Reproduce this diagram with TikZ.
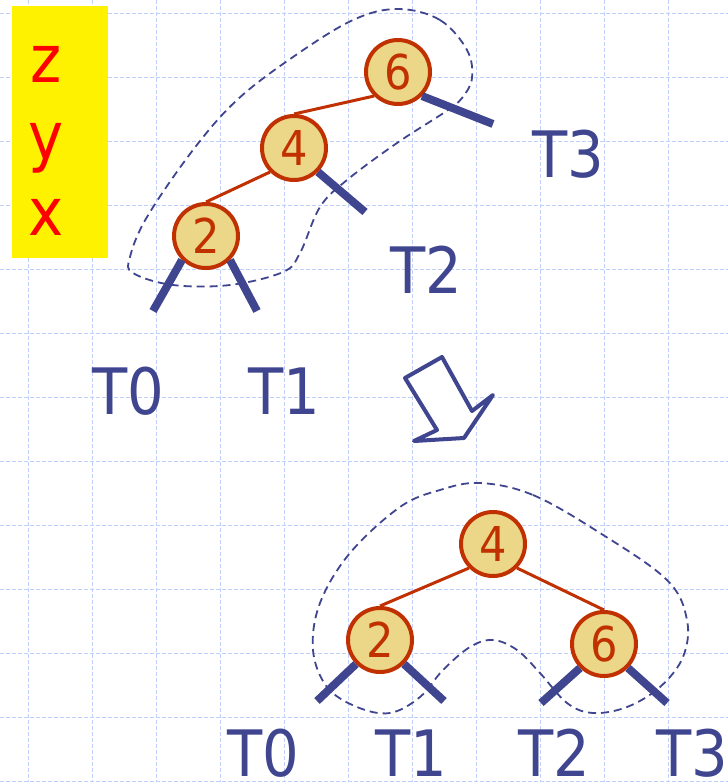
\documentclass[tikz,border=0pt]{standalone}
\usepackage{fontspec}
\setmainfont[FakeStretch=0.9]{DejaVu Sans}
\definecolor{treeblue}{RGB}{63,69,142}
\definecolor{nodered}{RGB}{192,48,0}
\definecolor{nodefill}{RGB}{235,215,135}
\definecolor{gridblue}{RGB}{192,208,250}

\begin{document}
\begin{tikzpicture}[x=1pt, y=-1pt,
  key/.style={circle, draw=nodered, fill=nodefill, line width=4pt, minimum size=64pt,
    inner sep=0pt, text=nodered, font=\fontsize{48}{50}\selectfont},
  link/.style={nodered, line width=3pt},
  stub/.style={treeblue, line width=8pt},
  lbl/.style={text=treeblue, anchor=base, inner sep=0pt, font=\fontsize{64}{70}\selectfont},
  letter/.style={text=red, anchor=base, inner sep=0pt, font=\fontsize{66}{70}\selectfont},
  blob/.style={treeblue, line width=1.8pt, dash pattern=on 8pt off 5pt}]

  \useasboundingbox (0,0) rectangle (728,782);
  \fill[white] (0,0) rectangle (728,782);

  % --- Grid ---
  \foreach \x in {28,92,...,668} \draw[gridblue, line width=1pt, dash pattern=on 4pt off 2pt] (\x,0) -- (\x,782);
  \foreach \y in {13,77,...,781} \draw[gridblue, line width=1pt, dash pattern=on 4pt off 2pt] (0,\y) -- (728,\y);

  % --- Rotation names ---
  \fill[yellow] (12,6) rectangle (108,258);
  \node[letter] (z) at (46,82) {z};
  \node[letter] (y) at (46,159) {y};
  \node[letter] (x) at (46,235) {x};

  % --- Before ---
  \node[key] (a6) at (398,72) {6};
  \node[key] (a4) at (294,148) {4};
  \node[key] (a2) at (206,236) {2};
  \draw[link] (a6.south west) -- (a4.north);
  \draw[link] (a4.south west) -- (a2.north);

  \coordinate (a6r) at (493,124);
  \coordinate (a4r) at (365,212);
  \coordinate (a2l) at (153,311);
  \coordinate (a2r) at (257,311);
  \draw[stub] (a6.south east) -- (a6r);
  \draw[stub] (a4.south east) -- (a4r);
  \draw[stub] (a2.south west) -- (a2l);
  \draw[stub] (a2.south east) -- (a2r);

  \node[lbl] (at3) at (568,177) {T3};
  \node[lbl] (at2) at (426,293) {T2};
  \node[lbl] (at0) at (128,414) {T0};
  \node[lbl] (at1) at (284,414) {T1};

  \draw[blob] plot[smooth cycle, tension=0.6] coordinates {(398,9) (440,20) (467,50) (472,78)
    (462,98) (445,112) (397,143) (347,180) (320,207) (300,253) (283,272) (230,285) (173,285)
    (133,273) (130,257) (147,217) (193,150) (237,100) (293,57) (353,20)};

  % --- Arrow ---
  \draw[treeblue, line width=4pt, fill=white, line join=round] (405,378) -- (442,357) -- (472,411)
    -- (493,395) -- (464,438) -- (414,441) -- (437,430) -- cycle;

  % --- After ---
  \node[key] (b4) at (493,544) {4};
  \node[key] (b2) at (380,640) {2};
  \node[key] (b6) at (604,644) {6};
  \draw[link] (b4.south west) -- (b2.north);
  \draw[link] (b4.south east) -- (b6.north);

  \coordinate (b2l) at (317,701);
  \coordinate (b2r) at (444,701);
  \coordinate (b6l) at (541,703);
  \coordinate (b6r) at (667,703);
  \draw[stub] (b2.south west) -- (b2l);
  \draw[stub] (b2.south east) -- (b2r);
  \draw[stub] (b6.south west) -- (b6l);
  \draw[stub] (b6.south east) -- (b6r);

  \node[lbl] (bt0) at (263,776) {T0};
  \node[lbl] (bt1) at (411,776) {T1};
  \node[lbl] (bt2) at (554,776) {T2};
  \node[lbl] (bt3) at (692,776) {T3};

  \draw[blob] plot[smooth cycle, tension=0.6] coordinates {(480,483) (533,495) (600,533)
    (667,580) (687,620) (683,657) (660,687) (627,707) (593,713) (567,703) (540,673) (517,650)
    (493,640) (470,647) (443,670) (420,697) (390,713) (357,707) (327,687) (313,650) (320,603)
    (350,553) (400,507) (440,490)};

\end{tikzpicture}
\end{document}
